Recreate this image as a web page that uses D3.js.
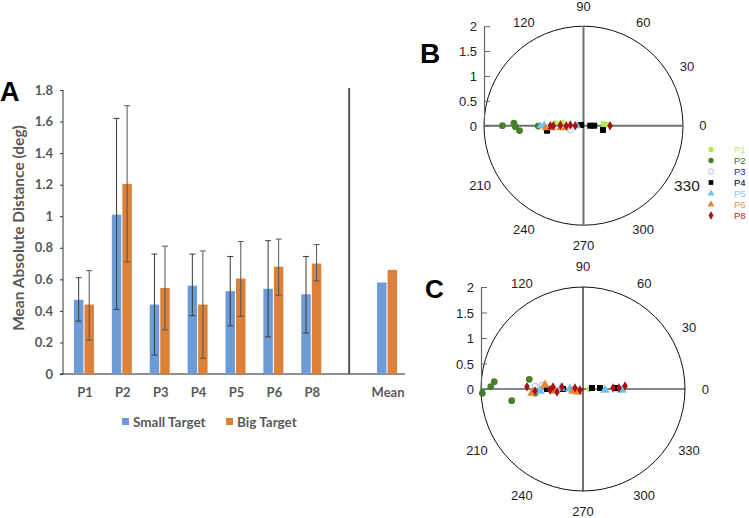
<!DOCTYPE html>
<html>
<head>
<meta charset="utf-8">
<script src="https://cdn.jsdelivr.net/npm/d3@7"></script>
<style>
  html, body { margin: 0; padding: 0; background: #fff; }
  svg { display: block; }
</style>
</head>
<body>
<svg id="chart" width="749" height="518"></svg>
<script>
// ---------------- Panel A data ----------------
const categories = ["P1", "P2", "P3", "P4", "P5", "P6", "P8", "", "Mean"];
const smallTarget = [0.47, 1.01, 0.44, 0.56, 0.525, 0.54, 0.505, null, 0.58];
const bigTarget   = [0.44, 1.205, 0.545, 0.44, 0.605, 0.68, 0.70, null, 0.66];
const smallErrHi  = [0.61, 1.62, 0.76, 0.76, 0.745, 0.845, 0.745, null, null];
const smallErrLo  = [0.335, 0.41, 0.12, 0.37, 0.305, 0.235, 0.26, null, null];
const bigErrHi    = [0.655, 1.70, 0.81, 0.78, 0.84, 0.855, 0.82, null, null];
const bigErrLo    = [0.215, 0.71, 0.28, 0.10, 0.365, 0.50, 0.59, null, null];
const yTicksA = [0, 0.2, 0.4, 0.6, 0.8, 1, 1.2, 1.4, 1.6, 1.8];
const seriesNames = ["Small Target", "Big Target"];

// ---------------- Polar panels data: [angle (deg), radius] ----------------
const participants = ["P1", "P2", "P3", "P4", "P5", "P6", "P8"];
const radialTicks = [0, 0.5, 1, 1.5, 2];
const angleLabels = [0, 30, 60, 90, 120, 210, 240, 270, 300, 330];

const smallPoints = {
  P1: [[174.6, 0.57], [171.6, 0.44], [4.9, 0.40], [2.9, 0.475]],
  P2: [[180, 1.63], [177.8, 1.40], [180.8, 1.37], [184.4, 1.29], [180.4, 0.91]],
  P3: [[197.9, 0.28], [182, 0.71]],
  P4: [[187.8, 0.74], [0, 0.135], [0, 0.215], [347.5, 0.40], [163, 0.05]],
  P5: [[180.4, 0.866], [182.9, 0.126], [179, 0.79]],
  P6: [[183.4, 0.767], [184.2, 0.633], [185.6, 0.47], [187, 0.37]],
  P8: [[180, 0.666], [180, 0.606], [178.3, 0.466], [180, 0.346], [177, 0.266], [180, 0.166], [0, 0.534]]
};
const bigPoints = {
  P1: [[0, 0.647], [0, 0.118]],
  P2: [[182.4, 1.975], [178.6, 1.81], [175.3, 1.745], [189.3, 1.417], [169.8, 1.07], [185, 0.945]],
  P3: [[176.4, 0.943], [174.4, 0.808]],
  P4: [[180, 0.706], [180, 0.392], [6.3, 0.178], [3.4, 0.334], [1.7, 0.667]],
  P5: [[182.7, 0.844], [177.4, 0.432], [180, 0.255], [357.4, 0.432], [358.5, 0.765]],
  P6: [[184.5, 1.003], [174, 0.749], [184.1, 0.55], [191.3, 0.2], [211, 0.114]],
  P8: [[177.6, 1.10], [182.4, 0.942], [181.7, 0.647], [176.2, 0.59], [186.6, 0.513], [174.6, 0.414], [172.9, 0.158], [198, 0.062], [1.9, 0.589], [1.6, 0.706], [4.1, 0.826]]
};

// ---------------- styles ----------------
const blue = "#6c9bd6", orange = "#db8139";
const pStyle = {
  P1: { sym: d3.symbolCircle, fill: "#aef04c", stroke: "none", text: "#b4f06a" },
  P2: { sym: d3.symbolCircle, fill: "#457f2b", stroke: "none", text: "#3a7020" },
  P3: { sym: d3.symbolCircle, fill: "#fff", stroke: "#a9a9dc", text: "#1e1eb4" },
  P4: { sym: d3.symbolSquare, fill: "#000", stroke: "none", text: "#000" },
  P5: { sym: d3.symbolTriangle, fill: "#6fc3f2", stroke: "none", text: "#7ccaf2" },
  P6: { sym: d3.symbolTriangle, fill: "#e8873a", stroke: "none", text: "#e8964a" },
  P8: { sym: d3.symbolDiamond, fill: "#a81212", stroke: "none", text: "#ae2626" }
};

const svg = d3.select("#chart");

// ================= Panel A =================
const fontA = "Lato, 'Open Sans', sans-serif";
const gray = "#595959";
const y = d3.scaleLinear().domain([0, 1.8]).range([374, 90]);
const x = d3.scaleBand().domain(categories).range([65, 406]);
const xs = d3.scaleBand().domain(["s", "b"]).range([0, 20]).paddingInner(0.1);
const A = svg.append("g");

// y axis
const yAxis = d3.axisLeft(y).tickValues(yTicksA).tickSize(3).tickFormat(d3.format("~g"));
const ya = A.append("g").attr("transform", "translate(63,0)").call(yAxis);
ya.select(".domain").attr("stroke", "#333").attr("d", "M0," + y(1.8) + "V" + y(0));
ya.selectAll(".tick line").attr("stroke", "#333");
ya.selectAll("text").attr("font-family", fontA).attr("font-weight", 700)
  .attr("font-size", 13).attr("fill", gray).attr("dx", -4);

// x axis line
A.append("line").attr("x1", 60).attr("x2", 405).attr("y1", y(0)).attr("y2", y(0))
  .attr("stroke", "#222").attr("stroke-width", 1.2);

// x labels
A.selectAll(".xl").data(categories.filter(c => c !== "")).join("text")
  .attr("x", d => x(d) + x.bandwidth() / 2 + 1).attr("y", 397)
  .attr("text-anchor", "middle").attr("font-family", fontA).attr("font-weight", 700)
  .attr("font-size", 13).attr("fill", gray).text(d => d);

// separator
A.append("line").attr("x1", x("") + x.bandwidth() / 2).attr("x2", x("") + x.bandwidth() / 2)
  .attr("y1", 88).attr("y2", y(0)).attr("stroke", "#555").attr("stroke-width", 2);

const seriesData = [
  { key: "s", vals: smallTarget, hi: smallErrHi, lo: smallErrLo, color: blue, err: "#3a3a3a" },
  { key: "b", vals: bigTarget, hi: bigErrHi, lo: bigErrLo, color: orange, err: "#555" }
];
seriesData.forEach(s => {
  const data = categories.map((c, i) => ({ c, v: s.vals[i], hi: s.hi[i], lo: s.lo[i] })).filter(d => d.v != null);
  A.selectAll(".bar" + s.key).data(data).join("rect")
    .attr("x", d => x(d.c) + x.bandwidth() / 2 - 10 + xs(s.key))
    .attr("width", xs.bandwidth())
    .attr("y", d => y(d.v)).attr("height", d => y(0) - y(d.v))
    .attr("fill", s.color);
  const eb = data.filter(d => d.hi != null);
  const cx = d => x(d.c) + x.bandwidth() / 2 - 10 + xs(s.key) + xs.bandwidth() / 2;
  const g = A.append("g").attr("stroke", s.err).attr("stroke-width", 1);
  g.selectAll(".v").data(eb).join("line")
    .attr("x1", cx).attr("x2", cx).attr("y1", d => y(d.hi)).attr("y2", d => y(d.lo));
  g.selectAll(".t").data(eb).join("line")
    .attr("x1", d => cx(d) - 3).attr("x2", d => cx(d) + 3).attr("y1", d => y(d.hi)).attr("y2", d => y(d.hi));
  g.selectAll(".b").data(eb).join("line")
    .attr("x1", d => cx(d) - 3).attr("x2", d => cx(d) + 3).attr("y1", d => y(d.lo)).attr("y2", d => y(d.lo));
});

// y axis title
A.append("text").attr("transform", "translate(24,228) rotate(-90)")
  .attr("text-anchor", "middle").attr("font-family", fontA).attr("font-weight", 700)
  .attr("font-size", 15.5).attr("fill", gray).text("Mean Absolute Distance (deg)");

// legend A
const legA = A.append("g");
const legX = [122, 226];
seriesNames.forEach((n, i) => {
  legA.append("rect").attr("x", legX[i]).attr("y", 418).attr("width", 7).attr("height", 7)
    .attr("fill", i === 0 ? blue : orange);
  legA.append("text").attr("x", legX[i] + 11).attr("y", 427).attr("font-family", fontA)
    .attr("font-weight", 700).attr("font-size", 13.5).attr("fill", gray).text(n);
});

// panel label A
svg.append("text").attr("x", 0).attr("y", 101).attr("font-family", "'Liberation Sans', Arial, sans-serif")
  .attr("font-weight", 700).attr("font-size", 27).attr("fill", "#000").text("A");

// ================= Polar panels =================
const fontP = "'Liberation Sans', Arial, Helvetica, sans-serif";
function polarPanel(cfg) {
  const g = svg.append("g");
  const r = d3.scaleLinear().domain([0, 2]).range([0, cfg.R]);
  const ang = d3.scaleLinear().domain([0, 360]).range([0, 2 * Math.PI]);
  const px = (a, v) => cfg.cx + r(v) * Math.cos(ang(a));
  const py = (a, v) => cfg.cy - r(v) * Math.sin(ang(a));

  // circle
  g.append("circle").attr("cx", cfg.cx).attr("cy", cfg.cy).attr("r", r(2))
    .attr("fill", "none").attr("stroke", "#111").attr("stroke-width", 1);
  // crosshair
  g.append("line").attr("x1", px(180, 2)).attr("x2", px(0, 2)).attr("y1", cfg.cy).attr("y2", cfg.cy)
    .attr("stroke", cfg.crossColor).attr("stroke-width", cfg.crossW);
  g.append("line").attr("x1", cfg.cx).attr("x2", cfg.cx).attr("y1", py(90, 2)).attr("y2", py(270, 2))
    .attr("stroke", cfg.crossColor).attr("stroke-width", cfg.crossW);

  // radial axis on the left
  const ry = d3.scaleLinear().domain([0, 2]).range([cfg.cy, cfg.cy - cfg.R]);
  const ax = g.append("g").attr("transform", `translate(${cfg.cx - cfg.R},0)`)
    .call(d3.axisLeft(ry).tickValues(radialTicks).tickSize(-6).tickSizeOuter(0).tickFormat(d3.format("~g")));
  ax.select(".domain").attr("stroke", "#666").attr("stroke-width", 1.2);
  ax.selectAll(".tick line").attr("stroke", "#666");
  ax.selectAll("text").attr("font-family", fontP).attr("font-size", 13).attr("fill", "#222")
    .attr("x", -7).attr("dy", "0.35em");

  // angle labels
  g.selectAll(".al").data(angleLabels).join("text")
    .attr("x", d => px(d, 2.4)).attr("y", d => py(d, 2.4)).attr("dy", "0.35em")
    .attr("text-anchor", "middle").attr("font-family", fontP)
    .attr("font-size", d => (cfg.big330 && d === 330) ? 15.5 : 13).attr("fill", "#222").text(d => d);

  // points
  participants.forEach(p => {
    const st = pStyle[p];
    g.selectAll(".pt" + p).data(cfg.points[p]).join("path")
      .attr("transform", d => `translate(${px(d[0], d[1])},${py(d[0], d[1])})`)
      .attr("d", d3.symbol().type(st.sym).size(p === "P2" || p === "P4" ? 36 : (p === "P5" || p === "P6") ? cfg.triSize : 26))
      .attr("fill", st.fill).attr("stroke", st.stroke).attr("stroke-width", 0.8);
  });

  // panel label
  svg.append("text").attr("x", cfg.lx).attr("y", cfg.ly).attr("font-family", fontP)
    .attr("font-weight", 700).attr("font-size", cfg.lsize).attr("fill", "#000").text(cfg.label);
  return g;
}

polarPanel({ cx: 583.5, cy: 125.7, R: 99.5, points: smallPoints, crossColor: "#6f6f6f", crossW: 2,
  label: "B", lx: 420, ly: 63, lsize: 28, big330: true, triSize: 26 });
polarPanel({ cx: 583, cy: 389, R: 102, points: bigPoints, crossColor: "#111", crossW: 1.2,
  label: "C", lx: 425, ly: 298, lsize: 26, big330: false, triSize: 40 });

// legend for polar panels
const legRowsY = [149.5, 160.5, 171.5, 182.5, 193.5, 204.5, 215.5];
const legP = svg.append("g");
participants.forEach((p, i) => {
  const st = pStyle[p];
  legP.append("path").attr("transform", `translate(711,${legRowsY[i]})`)
    .attr("d", d3.symbol().type(st.sym).size(22)).attr("fill", st.fill)
    .attr("stroke", st.stroke).attr("stroke-width", 0.8);
  legP.append("text").attr("x", 734).attr("y", legRowsY[i]).attr("dy", "0.36em")
    .attr("font-family", fontP).attr("font-size", 9.5).attr("fill", st.text).text(p);
});
</script>
</body>
</html>
